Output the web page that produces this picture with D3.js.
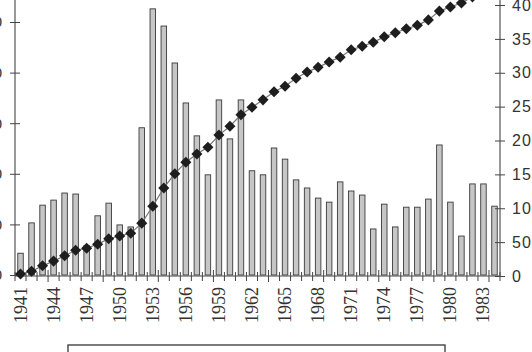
<!DOCTYPE html>
<html>
<head>
<meta charset="utf-8">
<script src="https://cdn.jsdelivr.net/npm/d3@7"></script>
<style>
  body { margin: 0; background: #fff; }
  svg { display: block; }
</style>
</head>
<body>
<svg width="532" height="352"></svg>
<script>
let svg = d3.select("svg");

// years shown on the x axis
let years = d3.range(1941, 1985);
// annual bars (left axis)
let annual = [4.3, 10.3, 13.8, 14.8, 16.2, 16.0, 5.8, 11.7, 14.2, 9.9,
              9.5, 29.1, 52.6, 49.2, 41.9, 34.0, 27.5, 19.8, 34.6, 26.9,
              34.6, 20.6, 19.8, 25.1, 22.9, 18.8, 17.2, 15.2, 14.4, 18.4,
              16.6, 15.8, 9.1, 14.0, 9.5, 13.4, 13.4, 15.0, 25.7, 14.4,
              7.7, 18.0, 18.0, 13.6];
// cumulative line (right axis)
let cumulative = [3, 7, 15, 22, 30, 38, 41, 47, 55, 59,
                  63, 78, 103, 130, 151, 168, 180, 190, 208, 221,
                  238, 249, 260, 272, 280, 292, 301, 308, 316, 323,
                  334, 339, 345, 353, 359, 365, 370, 378, 391, 397,
                  403, 412, 421, 428];
let leftTicks = [0, 10, 20, 30, 40, 50];
let rightTicks = [0, 50, 100, 150, 200, 250, 300, 350, 400];
let labelYears = years.filter((d, i) => i % 3 == 0);
let legendLabels = ["Annual number", "Cumulative number"];

let x = d3.scaleBand().domain(years).range([15, 500]).paddingInner(0.5).paddingOuter(0.25);
let yLeft = d3.scaleLinear().domain([0, 50]).range([275, 22]);
let yRight = d3.scaleLinear().domain([0, 400]).range([276, 5]);

// bars
svg.append("g").selectAll("rect").data(annual).enter().append("rect")
    .attr("x", (d, i) => x(years[i]))
    .attr("width", x.bandwidth())
    .attr("y", d => yLeft(d))
    .attr("height", d => yLeft(0) - yLeft(d))
    .attr("fill", "#c6c6c6")
    .attr("stroke", "#3a3a3a")
    .attr("stroke-width", 0.9);

// x axis line + ticks at band boundaries
let xg = svg.append("g");
xg.append("line").attr("x1", 15).attr("x2", 500).attr("y1", 276).attr("y2", 276)
    .attr("stroke", "#444").attr("stroke-width", 1.2);
xg.selectAll("line.tk").data(d3.range(0, years.length + 1)).enter().append("line")
    .attr("class", "tk")
    .attr("x1", i => 15 + i * (485 / years.length))
    .attr("x2", i => 15 + i * (485 / years.length))
    .attr("y1", i => (i % 5 == 3) ? 270 : 272)
    .attr("y2", i => (i % 5 == 3) ? 282 : 281)
    .attr("stroke", "#444").attr("stroke-width", 1);

// year labels, rotated
xg.selectAll("text").data(labelYears).enter().append("text")
    .attr("transform", d => "translate(" + (x(d) + x.bandwidth() / 2 + 6) + ",287) rotate(-90)")
    .attr("text-anchor", "end")
    .attr("fill", "#333")
    .style("font-family", "'Liberation Serif', 'Times New Roman', 'DejaVu Serif', serif")
    .style("font-size", "18px")
    .text(d => d);

// left axis
let leftAxis = d3.axisLeft(yLeft).tickValues(leftTicks).tickSize(5).tickPadding(8);
let lg = svg.append("g").attr("transform", "translate(15,0)").call(leftAxis);
lg.select(".domain").attr("d", "M0,0V276").attr("stroke", "#555").attr("stroke-width", 1.2);
lg.selectAll(".tick line").attr("x1", 5).attr("x2", -5).attr("stroke", "#444");
lg.selectAll(".tick text").attr("fill", "#333")
    .style("font-family", "'Liberation Sans', Arial, sans-serif").style("font-size", "15px");

// right axis
let rightAxis = d3.axisRight(yRight).tickValues(rightTicks).tickSize(5).tickPadding(7);
let rg = svg.append("g").attr("transform", "translate(500,0)").call(rightAxis);
rg.select(".domain").attr("d", "M0,0V276").attr("stroke", "#555").attr("stroke-width", 1.2);
rg.selectAll(".tick line").attr("x1", -5).attr("x2", 5).attr("stroke", "#444");
rg.selectAll(".tick text").attr("fill", "#333")
    .style("font-family", "'Liberation Sans', Arial, sans-serif").style("font-size", "16px")
    .style("letter-spacing", "1px");

// cumulative line with diamond markers
let line = d3.line().x((d, i) => x(years[i]) + x.bandwidth() / 2).y(d => yRight(d));
svg.append("path").datum(cumulative)
    .attr("d", line)
    .attr("fill", "none")
    .attr("stroke", "#777")
    .attr("stroke-width", 1.2);
svg.append("g").selectAll("path").data(cumulative).enter().append("path")
    .attr("transform", (d, i) => "translate(" + (x(years[i]) + x.bandwidth() / 2) + "," + yRight(d) + ")")
    .attr("d", d3.symbol().type(d3.symbolDiamond2).size(78))
    .attr("fill", "#1e1e1e");

// legend box (mostly below the visible frame)
let leg = svg.append("g");
leg.append("rect").attr("x", 68).attr("y", 345).attr("width", 377).attr("height", 40)
    .attr("fill", "#fff").attr("stroke", "#444").attr("stroke-width", 1.4);
leg.selectAll("text").data(legendLabels).enter().append("text")
    .attr("x", (d, i) => 150 + i * 190)
    .attr("y", 363)
    .attr("fill", "#333")
    .style("font-family", "'Liberation Serif', serif")
    .style("font-size", "14px")
    .text(d => d);
</script>
</body>
</html>
